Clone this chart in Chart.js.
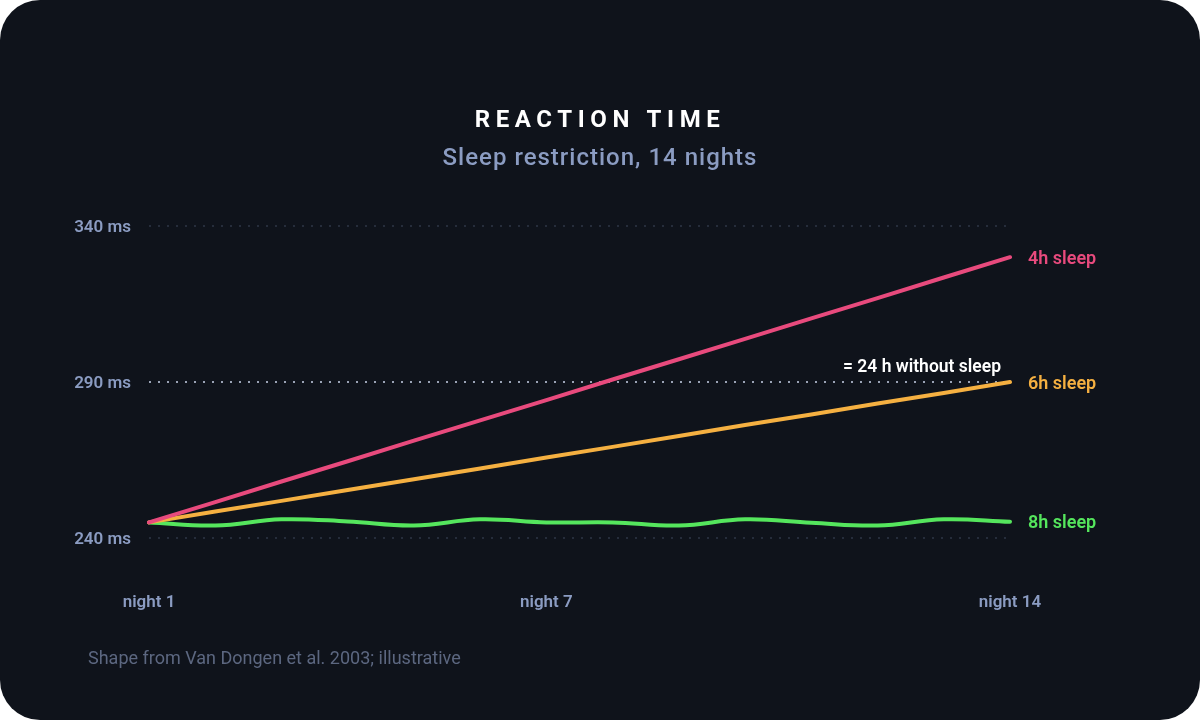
<!DOCTYPE html>
<html>
<head>
<meta charset="utf-8">
<script src="https://cdn.jsdelivr.net/npm/chart.js@4.4.1/dist/chart.umd.min.js"></script>
<style>
  html, body { margin: 0; padding: 0; background: #ffffff; }
  .card {
    width: 1200px;
    height: 720px;
    border-radius: 40px;
    background: #0f131b;
    overflow: hidden;
  }
  canvas { display: block; }
</style>
</head>
<body>
<div class="card">
  <canvas id="sleepChart" width="1200" height="720"></canvas>
</div>
<script>
const nights = ['night 1', 'night 2', 'night 3', 'night 4', 'night 5', 'night 6', 'night 7',
  'night 8', 'night 9', 'night 10', 'night 11', 'night 12', 'night 13', 'night 14'];
const shownNights = ['night 1', 'night 7', 'night 14'];

const sleep4h = [245, 251.5, 258.1, 264.6, 271.2, 277.7, 284.2, 290.8, 297.3, 303.8, 310.4, 316.9, 323.5, 330];
const sleep6h = [245, 248.5, 251.9, 255.4, 258.8, 262.3, 265.8, 269.2, 272.7, 276.2, 279.6, 283.1, 286.5, 290];
const sleep8h = [245, 244, 246, 245.3, 244, 246, 245, 245, 244, 246, 244.9, 244, 246, 245.2];

const yTicks = [240, 290, 340];
const refValue = 290;

const font = 'Roboto, "DejaVu Sans", sans-serif';

// titles, end labels, reference note and footnote
const decorations = {
  id: 'decorations',
  afterDraw(chart) {
    const ctx = chart.ctx;
    const area = chart.chartArea;
    const y = chart.scales.y;
    ctx.save();

    ctx.textAlign = 'center';
    ctx.textBaseline = 'middle';
    ctx.fillStyle = '#ffffff';
    ctx.font = '700 24px ' + font;
    ctx.letterSpacing = '5.6px';
    ctx.fillText('REACTION TIME', 600, 121);

    ctx.fillStyle = '#8b9cc2';
    ctx.font = '500 24px ' + font;
    ctx.letterSpacing = '1px';
    ctx.fillText('Sleep restriction, 14 nights', 600, 159);
    ctx.letterSpacing = '0px';

    ctx.textAlign = 'right';
    ctx.fillStyle = '#ffffff';
    ctx.font = '600 17.5px ' + font;
    ctx.fillText('= 24 h without sleep', area.right - 9, y.getPixelForValue(refValue) - 14);

    ctx.textAlign = 'left';
    ctx.font = '600 18px ' + font;
    chart.data.datasets.forEach((ds, i) => {
      const pts = chart.getDatasetMeta(i).data;
      const last = pts[pts.length - 1];
      ctx.fillStyle = ds.borderColor;
      ctx.fillText(ds.label, last.x + 18, last.y + 2);
    });

    ctx.fillStyle = '#5c6780';
    ctx.font = '400 18px ' + font;
    ctx.fillText('Shape from Van Dongen et al. 2003; illustrative', 88, 659);

    ctx.restore();
  }
};

const ctx = document.getElementById('sleepChart').getContext('2d');

new Chart(ctx, {
  type: 'line',
  data: {
    labels: nights,
    datasets: [
      { label: '4h sleep', data: sleep4h, borderColor: '#e84a7d' },
      { label: '6h sleep', data: sleep6h, borderColor: '#f5b041' },
      { label: '8h sleep', data: sleep8h, borderColor: '#55e65d', tension: 0.4 }
    ]
  },
  options: {
    responsive: false,
    animation: false,
    devicePixelRatio: 1,
    layout: { padding: { left: 0, right: 190, top: 226, bottom: 82 } },
    elements: {
      point: { radius: 0 },
      line: { borderWidth: 4, borderCapStyle: 'round', borderJoinStyle: 'round', fill: false }
    },
    plugins: {
      legend: { display: false },
      title: { display: false },
      tooltip: { enabled: false }
    },
    scales: {
      x: {
        grid: { display: false },
        border: { display: false },
        afterFit: s => { s.height = 100; },
        ticks: {
          autoSkip: false,
          maxRotation: 0,
          padding: 47,
          color: '#8b9cc2',
          font: { family: font, size: 17, weight: '600' },
          callback: function (v, i) {
            const name = nights[i];
            return shownNights.includes(name) ? name : '';
          }
        }
      },
      y: {
        min: 240,
        max: 340,
        afterFit: s => { s.width = 149; },
        afterBuildTicks: s => { s.ticks = yTicks.map(v => ({ value: v })); },
        border: { display: false, dash: [2, 7] },
        grid: {
          drawTicks: false,
          lineWidth: 2,
          color: c => (c.tick && c.tick.value === refValue) ? '#9aa3b5' : '#262d3b'
        },
        ticks: {
          padding: 18,
          labelOffset: 2,
          color: '#8b9cc2',
          font: { family: font, size: 17, weight: '600' },
          callback: v => v + ' ms'
        }
      }
    }
  },
  plugins: [decorations]
});
</script>
</body>
</html>
